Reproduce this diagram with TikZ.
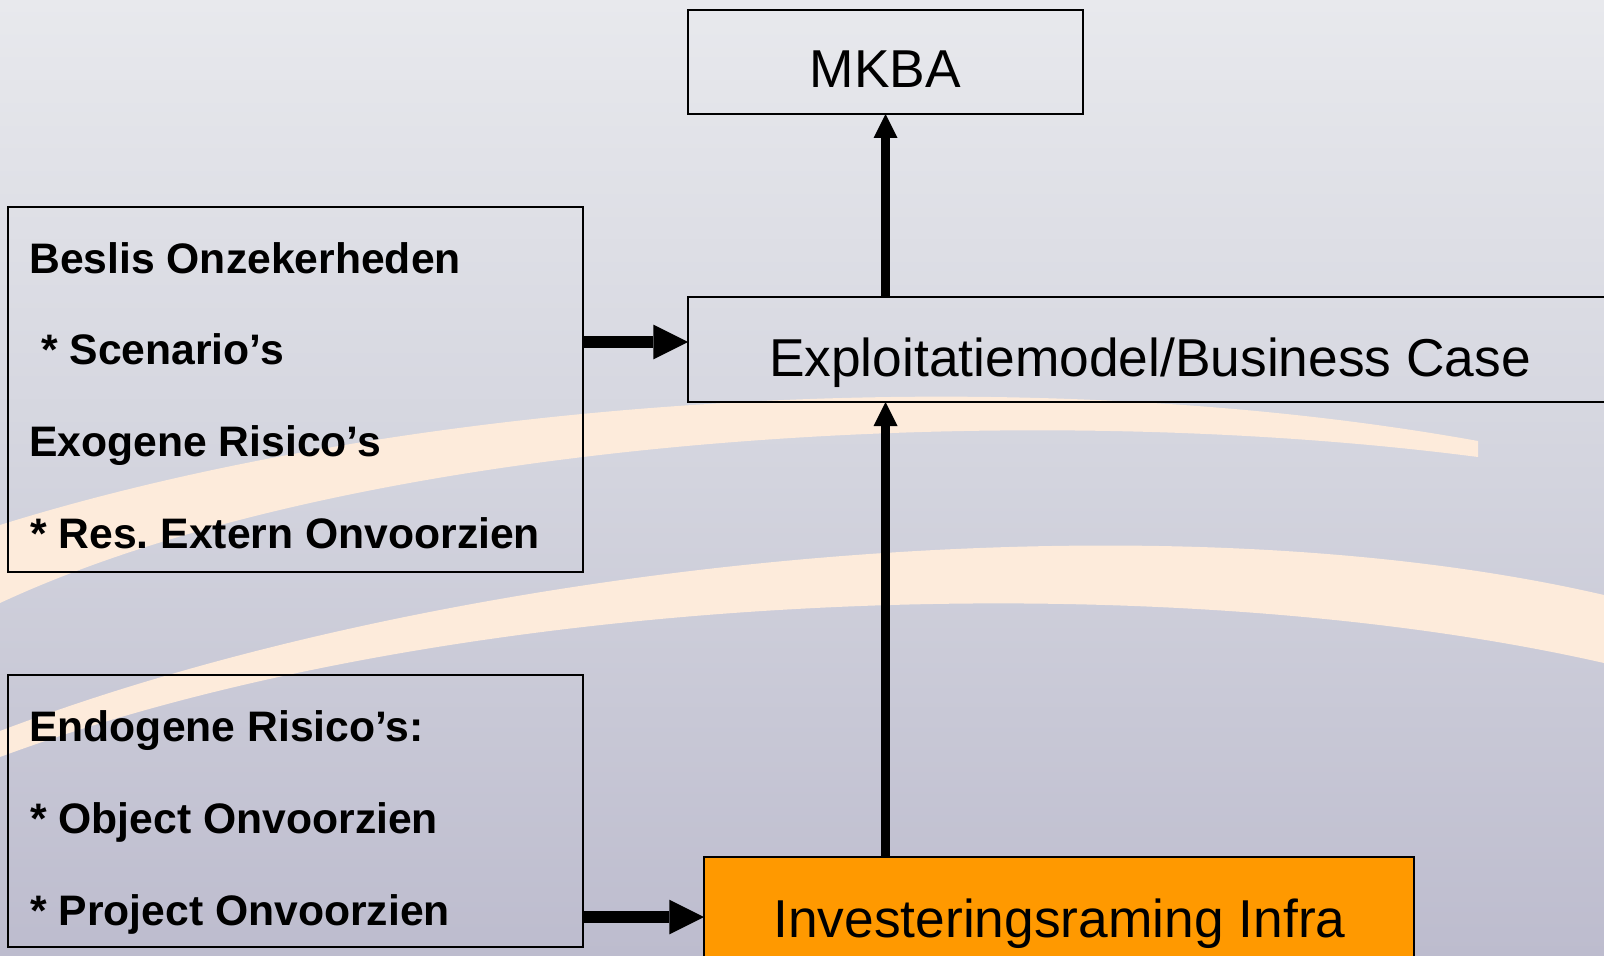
\documentclass[tikz,border=0pt]{standalone}
\usepackage{fontspec}
\setmainfont{Liberation Sans}
\frenchspacing
\usetikzlibrary{arrows.meta}
\definecolor{bgtop}{HTML}{E8E9ED}
\definecolor{bgmid}{HTML}{D3D4DE}
\definecolor{bgbot}{HTML}{BDBCCE}
\definecolor{cream}{HTML}{FDEBDB}
\definecolor{orangebox}{HTML}{FF9900}
\tikzset{
  box/.style={draw=black, line width=1.3pt, inner sep=0pt, outer sep=0pt},
  bigtxt/.style={font=\fontsize{40}{48}\selectfont, anchor=base, inner sep=0pt},
  lefttxt/.style={font=\fontsize{32}{38}\selectfont\bfseries, anchor=base west, inner sep=0pt},
  harrow/.style={line width=9pt, -{Triangle[length=26pt,width=26pt,line width=0pt]}},
  varrow/.style={line width=6.75pt, -{Triangle[length=18pt,width=18pt,line width=0pt]}},
}
\begin{document}
\begin{tikzpicture}[x=0.75pt, y=-0.75pt]
\useasboundingbox (0,0) rectangle (1604,956);
\clip (0,0) rectangle (1604,956);
% background
\shade[top color=bgtop, bottom color=bgbot, middle color=bgmid] (0,0) rectangle (1604,956);
% swooshes
\fill[cream] (0,525) .. controls (400,400) and (1000,355) .. (1478,441)
  -- (1478,457) .. controls (1000,395) and (350,440) .. (0,603) -- cycle;
\fill[cream] (0,731) .. controls (450,560) and (1150,490) .. (1604,595)
  -- (1604,663) .. controls (1150,560) and (450,590) .. (0,757) -- cycle;
% boxes
\node[box, minimum width=296.25pt, minimum height=78pt] (mkba) at (885.5,62) {};
\node[box, minimum width=693pt, minimum height=78.75pt] (expl) at (1150,349.5) {};
\node[box, minimum width=431.25pt, minimum height=273.75pt] (beslis) at (295.5,389.5) {};
\node[box, minimum width=431.25pt, minimum height=204pt] (endo) at (295.5,811) {};
\node[box, fill=orangebox, minimum width=532.5pt, minimum height=90pt] (invest) at (1059,917) {};
% texts
\node[bigtxt] (mkbat) at (885.5,88) {MKBA};
\node[bigtxt] (explt) at (1150,376) {Exploitatiemodel/Business Case};
\node[bigtxt] (investt) at (1059.5,937) {Investeringsraming Infra};
\node[lefttxt] (b1) at (29,273) {Beslis Onzekerheden};
\node[lefttxt] (b2) at (41,364) {* Scenario’s};
\node[lefttxt] (b3) at (29,456) {Exogene Risico’s};
\node[lefttxt] (b4) at (30,548) {* Res. Extern Onvoorzien};
\node[lefttxt] (e1) at (29,741) {Endogene Risico’s:};
\node[lefttxt] (e2) at (30,833) {* Object Onvoorzien};
\node[lefttxt] (e3) at (30,925) {* Project Onvoorzien};
% connectors
\coordinate (h1) at (0,342);
\coordinate (h2) at (0,917);
\draw[harrow] (beslis.east |- h1) -- (expl.west |- h1);
\draw[harrow] (endo.east |- h2) -- (invest.west |- h2);
\draw[varrow] (mkba.south |- expl.north) -- (mkba.south);
\draw[varrow] (mkba.south |- invest.north) -- (mkba.south |- expl.south);
\end{tikzpicture}
\end{document}
